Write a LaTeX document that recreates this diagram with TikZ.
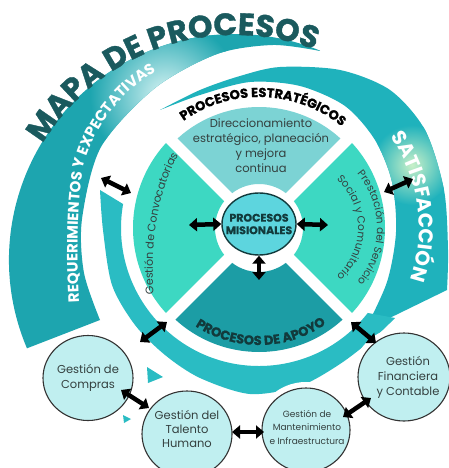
\documentclass[tikz,border=0pt]{standalone}
\usepackage{fontspec}
\setmainfont{Poppins}
\newfontfamily\heavyFam{Poppins}[FakeBold=1.2]
\usetikzlibrary{calc,decorations.text,arrows.meta,shapes.geometric}
\definecolor{bandA}{HTML}{1DA5AF}
\definecolor{bandB}{HTML}{1FB2BC}
\definecolor{cres}{HTML}{2ABCC3}
\definecolor{secTop}{HTML}{7CD3D4}
\definecolor{secSide}{HTML}{3DD8C2}
\definecolor{secBot}{HTML}{1C9DA5}
\definecolor{ellC}{HTML}{5DD5DE}
\definecolor{circC}{HTML}{C0EFF0}
\definecolor{titleC}{HTML}{1A5A5E}
\definecolor{txtC}{HTML}{34403F}
\definecolor{darkT}{HTML}{123A3C}
\definecolor{glow}{HTML}{D8F4F4}
\definecolor{glowB}{HTML}{C8F0C8}
\newcommand\fTitle{\heavyFam\fontsize{31}{31}\selectfont\bfseries}
\newcommand\fReq{\fontsize{15}{15}\selectfont\bfseries}
\newcommand\fSat{\fontsize{20}{20}\selectfont\bfseries}
\newcommand\fHead{\heavyFam\fontsize{13}{13}\selectfont\bfseries}
\newcommand\fApo{\heavyFam\fontsize{13}{13}\selectfont\bfseries}
\newcommand\fSec{\fontsize{11}{11}\selectfont}
\newcommand\fSecR{\fontsize{10.5}{10.5}\selectfont}
\newcommand\reqPath{($(R)+(203:226)$) arc[start angle=203,end angle=68,radius=226]
  -- plot[smooth] coordinates {(320,-51) (273,-45) (217,-54) (155,-88) (101,-147) (82,-219) (84,-273) (100,-320)} -- cycle}
\newcommand\satPath{plot[smooth] coordinates {(160,-110) (200,-90) (240,-76) (280,-67) (340,-70) (390,-90) (425,-130) (444,-190) (448,-250) (447,-290)}
  -- plot[smooth] coordinates {(365,-330) (387,-282) (396,-232) (392,-182) (375,-140) (345,-106) (300,-86) (250,-82) (200,-95) (160,-110)} -- cycle}
\begin{document}
\begin{tikzpicture}[x=1pt,y=1pt,
  dbl/.style={line width=4.5pt, arrows={Triangle[width=13pt,length=8pt]-Triangle[width=13pt,length=8pt]}},
  unit/.style={ellipse, draw=black!80, line width=1.1pt, fill=circC, preaction={draw=white, line width=12pt}, inner sep=0pt},
  unittext/.style={text=txtC, align=center, inner sep=0pt}
]
\useasboundingbox (0,0) rectangle (448,-468);
\fill[white] (0,0) rectangle (448,-468);
\coordinate (R) at (235,-260);
\coordinate (C) at (259,-228);
\coordinate (S) at (293,-228);

% outer band: requerimientos
\fill[bandA] \reqPath;
\begin{scope}
  \clip \reqPath;
  \shade[inner color=glow, outer color=bandA] (165,-95) circle[radius=75];
\end{scope}
% outer band: satisfaccion
\fill[bandB] \satPath;
\begin{scope}
  \clip \satPath;
  \shade[inner color=glowB, outer color=bandB] (412,-165) circle[radius=40];
\end{scope}
% inner crescent
\fill[cres] plot[smooth] coordinates {(100,-190) (103,-230) (112,-285) (135,-325) (165,-355) (200,-378) (250,-394) (300,-386) (340,-364) (375,-337) (395,-318)}
  -- ($(C)+(-38:138)$) arc[start angle=-38,end angle=-190,radius=138] -- cycle;
\fill[cres] (147,-367) -- (163,-377) -- (148,-383) -- cycle;
\fill[cres] (123,-415) -- (131,-419) -- (124,-423) -- cycle;

% sectors
\begin{scope}[shift={(C)}]
  \fill[secTop] (45:121) arc[start angle=45,end angle=135,radius=121] -- (135:44) arc[start angle=135,end angle=45,radius=44] -- cycle;
  \fill[secSide] (135:126) arc[start angle=135,end angle=225,radius=126] -- (225:44) arc[start angle=225,end angle=135,radius=44] -- cycle;
  \fill[secBot] (225:124) arc[start angle=225,end angle=315,radius=124] -- (315:44) arc[start angle=315,end angle=225,radius=44] -- cycle;
  \fill[secSide] (-45:126) arc[start angle=-45,end angle=45,radius=126] -- (45:44) arc[start angle=45,end angle=-45,radius=44] -- cycle;
  \draw[white, line width=11pt] (45:135) -- (225:135) (135:135) -- (315:135);
\end{scope}

% centre
\node[ellipse, draw=darkT, line width=1.4pt, fill=ellC, minimum width=74pt, minimum height=62pt, inner sep=0pt] (mis) at (259,-224) {};
\node[text=darkT, align=center, font=\heavyFam\fontsize{11}{12.5}\selectfont\bfseries] (misT) at (mis.center) {PROCESOS\\MISIONALES};

% sector texts
\node[text=txtC, align=center, font=\fontsize{11.5}{15}\selectfont] (dir) at (261,-146) {Direccionamiento\\estratégico, planeación\\y mejora\\continua};
\path[decorate, decoration={text along path, text align=center, text color=txtC, text={|\fSec|Gestión de Convocatorias}}]
  (154,-300) .. controls (150,-250) and (155,-195) .. (181,-150);
\path[decorate, decoration={text along path, text align=center, text color=txtC, text={|\fSecR|Prestación del Servicio}}]
  ($(S)+(62:84)$) arc[start angle=62,end angle=-62,radius=84];
\path[decorate, decoration={text along path, text align=center, text color=txtC, text={|\fSecR|Social y Comunitario}}]
  ($(S)+(67:65)$) arc[start angle=67,end angle=-67,radius=65];

% headings on arcs
\path[decorate, decoration={text along path, text align=center, text color=black, text={|\fHead|PROCESOS ESTRATÉGICOS}}]
  ($(C)+(137:131)$) arc[start angle=137,end angle=39,radius=131];
\path[decorate, decoration={text along path, text align=center, text color=darkT, text={|\fApo|PROCESOS DE APOYO}}]
  ($(C)+(223:117)$) arc[start angle=223,end angle=319,radius=117];
\path[decorate, decoration={text along path, text align=center, text color=white, text={|\fSat|SATISFACCIÓN}}]
  ($(C)+(55:160)$) arc[start angle=55,end angle=-39,radius=160];
\path[decorate, decoration={text along path, text align=center, text color=white, text={|\fReq|REQUERIMIENTOS Y EXPECTATIVAS}}]
  (81,-332) .. controls (77,-272) and (75,-212) .. (84,-165) .. controls (96,-122) and (130,-78) .. (183,-58);
\path[decorate, decoration={text along path, text align=center, text color=titleC, text={|\fTitle|MAPA DE PROCESOS}}]
  ($(R)+(160:225)$) arc[start angle=160,end angle=58,radius=225];

% support units
\node[unit, minimum width=90pt, minimum height=85pt] (compras) at (88,-378) {};
\node[unittext, font=\fontsize{11.5}{15}\selectfont] (comprasT) at (compras.center) {Gestión de\\Compras};
\node[unit, minimum width=90pt, minimum height=86pt] (talento) at (187,-434) {};
\node[unittext, font=\fontsize{11.5}{14}\selectfont] (talentoT) at (187,-429) {Gestión del\\Talento\\Humano};
\node[unit, minimum width=88pt, minimum height=84pt] (mant) at (306,-430) {};
\node[unittext, font=\fontsize{9}{13.5}\selectfont] (mantT) at (307,-427) {Gestión de\\Mantenimiento\\e Infraestructura};
\node[unit, minimum width=92pt, minimum height=88pt] (fin) at (404,-377) {};
\node[unittext, font=\fontsize{11.5}{15}\selectfont] (finT) at (408,-377) {Gestión\\Financiera\\y Contable};

% arrows
\coordinate (a1) at (189,-225);
\coordinate (a2) at (328,-225);
\coordinate (a3) at (259,-280);
\coordinate (b1) at (101,-178); \coordinate (b2) at (131,-193);
\coordinate (c1) at (140,-342); \coordinate (c2) at (167,-322);
\coordinate (d1) at (384,-192); \coordinate (d2) at (413,-179);
\coordinate (e1) at (351,-322); \coordinate (e2) at (376,-343);
\coordinate (f1) at (121,-390); \coordinate (f2) at (149,-408);
\coordinate (g1) at (232,-432); \coordinate (g2) at (264,-432);
\coordinate (h1) at (343,-417); \coordinate (h2) at (371,-398);
\draw[dbl] (a1) -- (mis.west);
\draw[dbl] (mis.east) -- (a2);
\draw[dbl] (mis.south) -- (a3);
\draw[dbl] (b1) -- (b2);
\draw[dbl] (c1) -- (c2);
\draw[dbl] (d1) -- (d2);
\draw[dbl] (e1) -- (e2);
\draw[dbl] (f1) -- (f2);
\draw[dbl] (g1) -- (g2);
\draw[dbl] (h1) -- (h2);
\end{tikzpicture}
\end{document}
